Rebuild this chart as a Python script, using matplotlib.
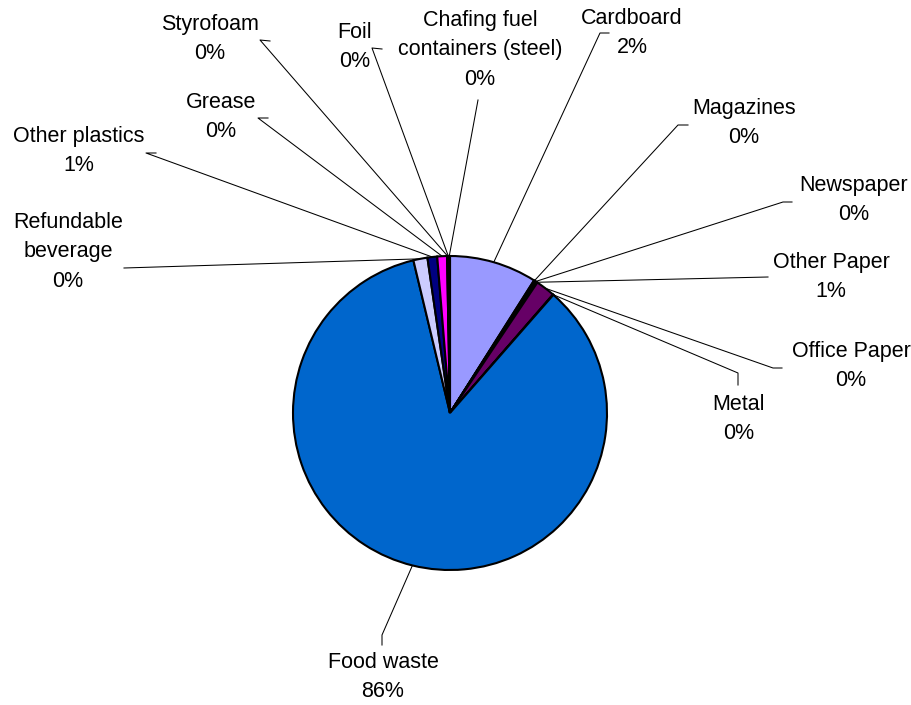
import numpy as np
import matplotlib
matplotlib.use("Agg")
import matplotlib.pyplot as plt

W, H = 912, 705

categories = ["Cardboard", "Magazines", "Newspaper", "Other Paper", "Office Paper",
              "Metal", "Food waste", "Refundable\nbeverage", "Other plastics", "Grease",
              "Styrofoam", "Foil", "Chafing fuel\ncontainers (steel)"]
shares = [9.0, 0.1, 0.2, 0.1, 2.0, 0.05, 84.9, 1.45, 1.0, 1.0, 0.1, 0.05, 0.15]
pct_labels = ["2%", "0%", "0%", "1%", "0%", "0%", "86%", "0%", "1%", "0%", "0%", "0%", "0%"]
colors = ["#9999FF", "#993366", "#FFFFCC", "#CCFFFF", "#660066", "#FF8080", "#0066CC",
          "#CCCCFF", "#000080", "#FF00FF", "#FFFF00", "#00FFFF", "#800080"]

# label centre (x, y from top) and where the leader line leaves the label
label_pos = [(632, 33), (744, 123), (854, 200), (831, 277), (851, 366), (739, 419),
             (383, 677), (68, 252), (79, 151), (221, 117), (210, 39), (355, 47), (480, 50)]
leader_from = [[(609, 33), (600, 33)], [(688, 125), (678, 125)], [(792, 202), (783, 202)],
               [(768, 277)], [(782, 368), (773, 368)], [(738, 385), (738, 373)],
               [(382, 645), (382, 635)], [(124, 268)], [(156, 153), (146, 153)],
               [(268, 118), (258, 118)], [(270, 41), (260, 40)], [(382, 49), (372, 48)],
               [(478, 100)]]

cx, cy, r = 450, 413, 157

plt.rcParams['font.family'] = ['Liberation Sans', 'DejaVu Sans']

fig = plt.figure(figsize=(W / 100, H / 100), dpi=100)
ax = fig.add_axes([0, 0, 1, 1])

wedges, _ = ax.pie(shares, colors=colors, startangle=90, counterclock=False,
                   center=(cx, H - cy), radius=r,
                   wedgeprops=dict(edgecolor="black", linewidth=1.5))

for w, name, pct, (lx, ly), pts in zip(wedges, categories, pct_labels, label_pos, leader_from):
    mid = np.deg2rad((w.theta1 + w.theta2) / 2)
    rim = (cx + r * np.cos(mid), H - cy + r * np.sin(mid))
    xs = [p[0] for p in pts] + [rim[0]]
    ys = [H - p[1] for p in pts] + [rim[1]]
    ax.plot(xs, ys, color="black", linewidth=0.75, zorder=0)
    ax.text(lx, H - ly, name + "\n" + pct, ha="center", va="center",
            fontsize=15.5, linespacing=1.55, color="black")

ax.set_xlim(0, W)
ax.set_ylim(0, H)
ax.set_aspect("equal")
ax.axis("off")

fig.savefig("out.png", dpi=100, facecolor="white")
